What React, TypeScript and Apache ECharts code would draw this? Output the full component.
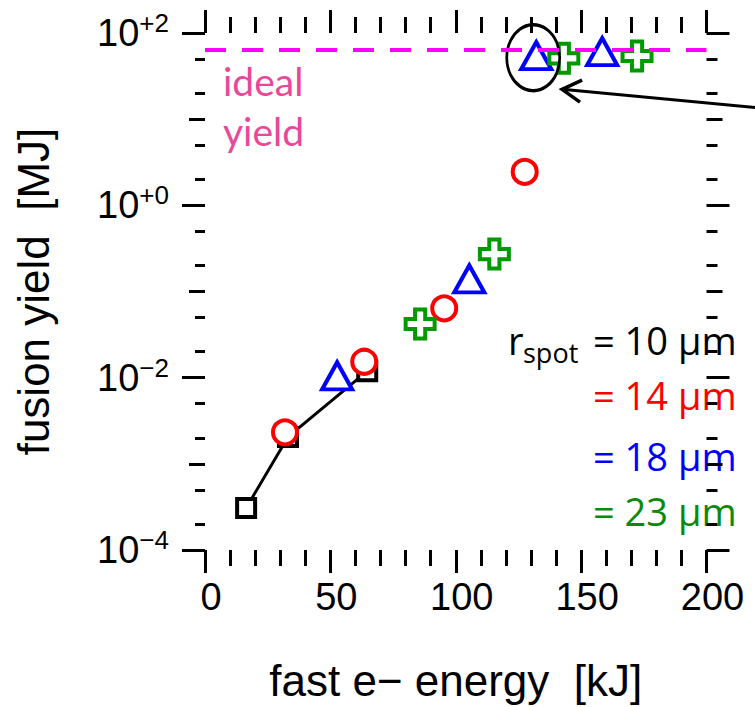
import React, { useEffect, useRef } from 'react';
import * as echarts from 'echarts';

// ---- axis ranges & ticks ----
const X_MIN = 0;
const X_MAX = 200;
const X_INTERVAL = 50;
const Y_MIN = 1e-4;
const Y_MAX = 1e2;
const yMajorTicks = [1e-4, 1e-2, 1, 100];
const yMidTicks = [1e-3, 0.1, 10];
const yMinorTicks = [2e-4, 5e-4, 2e-3, 5e-3, 0.02, 0.05, 0.2, 0.5, 2, 5, 20, 50];

// ---- data: fast e- energy [kJ] vs fusion yield [MJ] ----
const r10X = [16.4, 33.1, 64.7];
const r10Y = [3.07e-4, 2.05e-3, 0.0119];
const r14X = [31.9, 63.5, 95.4, 127.5];
const r14Y = [2.32e-3, 0.0153, 0.0638, 2.45];
const r18X = [52.7, 105.4, 132.1, 158.4];
const r18Y = [0.0105, 0.14, 54.5, 60.7];
const r23X = [85.8, 115.4, 143.1, 172.3];
const r23Y = [0.042, 0.272, 50.8, 54.1];
const IDEAL_YIELD = 63.4;

// annotation (data units)
const HIGHLIGHT_POINT = [132.1, 54.5];
const ARROW_TIP = [142.4, 22.2];
const ARROW_TAIL = [225, 13.2];

// ---- texts ----
const X_NAME = 'fast e\u2212 energy  [kJ]';
const Y_NAME = 'fusion yield  [MJ]';
const IDEAL_TEXT = ['ideal', 'yield'];
const LEGEND_TEXTS = ['= 10 \u03bcm', '= 14 \u03bcm', '= 18 \u03bcm', '= 23 \u03bcm'];
const LEGEND_COLORS = ['#000000', '#ff0000', '#0000ff', '#0a8a0a'];

const AXIS_FONT = "'Liberation Sans', Arial, sans-serif";
const TEXT_FONT = "Lato, 'Open Sans', sans-serif";
const LEGEND_FONT = "'Open Sans', Lato, sans-serif";

const zip = (xs: number[], ys: number[]) => xs.map((x, i) => [x, ys[i]]);

const PLUS_PATH =
  'path://M3.25,0H6.75V3.25H10V6.75H6.75V10H3.25V6.75H0V3.25H3.25Z';

function yLabel(v: number) {
  const e = Math.round(Math.log10(v));
  const sign = e < 0 ? '\u2212' : '+';
  return `{b|10}{s|${sign}${Math.abs(e)}}`;
}

function makeYAxis(
  position: 'left' | 'right',
  ticks: number[],
  length: number,
  withLabels: boolean
) {
  return {
    type: 'log',
    logBase: 10,
    min: Y_MIN,
    max: Y_MAX,
    position,
    gridIndex: 0,
    axisLine: { show: false },
    splitLine: { show: false },
    axisTick: {
      show: true,
      inside: false,
      length,
      customValues: ticks,
      lineStyle: { color: '#000', width: 3 },
    },
    axisLabel: withLabels
      ? {
          show: true,
          customValues: ticks,
          margin: 36,
          formatter: yLabel,
          rich: {
            b: { fontSize: 38, fontFamily: AXIS_FONT, color: '#000', lineHeight: 46, verticalAlign: 'middle' },
            s: { fontSize: 26, fontFamily: AXIS_FONT, color: '#000', lineHeight: 26, verticalAlign: 'top' },
          },
        }
      : { show: false },
    name: withLabels ? Y_NAME : '',
    nameLocation: 'middle',
    nameRotate: 90,
    nameGap: 150,
    nameMoveOverlap: false,
    nameTextStyle: { fontSize: 44, fontFamily: AXIS_FONT, color: '#000' },
  };
}

function makeXAxis(position: 'top' | 'bottom', withLabels: boolean) {
  return {
    type: 'value',
    min: X_MIN,
    max: X_MAX,
    interval: X_INTERVAL,
    position,
    gridIndex: 0,
    axisLine: { show: false },
    splitLine: { show: false },
    axisTick: { show: true, inside: false, length: 23, lineStyle: { color: '#000', width: 3 } },
    minorTick: { show: true, splitNumber: 5, length: 16, lineStyle: { color: '#000', width: 3 } },
    axisLabel: withLabels
      ? {
          show: true,
          fontSize: 38,
          lineHeight: 38,
          fontFamily: AXIS_FONT,
          color: '#000',
          margin: 28,
          padding: [0, 0, 0, 12],
        }
      : { show: false },
    name: withLabels ? X_NAME : '',
    nameLocation: 'middle',
    nameGap: 108,
    nameMoveOverlap: false,
    nameTextStyle: { fontSize: 44, fontFamily: AXIS_FONT, color: '#000' },
  };
}

function buildOption() {
  const legendGraphics: any[] = LEGEND_TEXTS.map((t, i) => ({
    type: 'text',
    x: 593,
    y: [340, 395, 456, 511][i],
    style: {
      text: t,
      fill: LEGEND_COLORS[i],
      font: `38px ${LEGEND_FONT}`,
      textAlign: 'left',
      textVerticalAlign: 'middle',
    },
  }));
  return {
    animation: false,
    backgroundColor: '#ffffff',
    grid: { left: 205, right: 48.5, top: 33, bottom: 157, containLabel: false, outerBoundsMode: 'none' },
    xAxis: [makeXAxis('bottom', true), makeXAxis('top', false)],
    yAxis: [
      makeYAxis('left', yMajorTicks, 23, true),
      makeYAxis('left', yMidTicks, 16, false),
      makeYAxis('left', yMinorTicks, 10, false),
      makeYAxis('right', yMajorTicks, 23, false),
      makeYAxis('right', yMidTicks, 16, false),
      makeYAxis('right', yMinorTicks, 11, false),
    ],
    graphic: [
      {
        type: 'text',
        x: 223,
        y: 81,
        style: { text: IDEAL_TEXT[0], fill: '#e9489a', font: `39px ${TEXT_FONT}`, textVerticalAlign: 'middle' },
      },
      {
        type: 'text',
        x: 223,
        y: 131,
        style: { text: IDEAL_TEXT[1], fill: '#e9489a', font: `39px ${TEXT_FONT}`, textVerticalAlign: 'middle' },
      },
      {
        type: 'text',
        x: 508,
        y: 340,
        style: { text: 'r', fill: '#000', font: `38px ${LEGEND_FONT}`, textVerticalAlign: 'middle' },
      },
      {
        type: 'text',
        x: 523,
        y: 352,
        style: { text: 'spot', fill: '#000', font: `27px ${LEGEND_FONT}`, textVerticalAlign: 'middle' },
      },
      ...legendGraphics,
    ],
    series: [
      {
        name: 'r10',
        type: 'line',
        xAxisIndex: 0,
        yAxisIndex: 0,
        data: zip(r10X, r10Y),
        symbol: 'rect',
        symbolSize: 18,
        showSymbol: true,
        lineStyle: { color: '#000', width: 3 },
        itemStyle: { color: '#ffffff', borderColor: '#000', borderWidth: 4 },
        z: 2,
      },
      {
        name: 'r14',
        type: 'scatter',
        xAxisIndex: 0,
        yAxisIndex: 0,
        data: zip(r14X, r14Y),
        symbol: 'circle',
        symbolSize: 24,
        itemStyle: { color: '#ffffff', borderColor: '#ff0000', borderWidth: 4, opacity: 1 },
        z: 3,
      },
      {
        name: 'r18',
        type: 'scatter',
        xAxisIndex: 0,
        yAxisIndex: 0,
        data: zip(r18X, r18Y),
        symbol: 'triangle',
        symbolSize: [30, 27],
        itemStyle: { color: '#ffffff', borderColor: '#0000ff', borderWidth: 4, opacity: 1 },
        z: 4,
      },
      {
        name: 'r23',
        type: 'scatter',
        xAxisIndex: 0,
        yAxisIndex: 0,
        data: zip(r23X, r23Y),
        symbol: PLUS_PATH,
        symbolSize: 29,
        itemStyle: { color: '#ffffff', borderColor: '#009900', borderWidth: 4, opacity: 1 },
        z: 5,
      },
      {
        name: 'highlight',
        type: 'scatter',
        xAxisIndex: 0,
        yAxisIndex: 0,
        data: [HIGHLIGHT_POINT],
        symbol: 'circle',
        symbolSize: [53, 66],
        symbolOffset: [-3, 2],
        itemStyle: { color: 'rgba(0,0,0,0)', borderColor: '#000', borderWidth: 3, opacity: 1 },
        silent: true,
        z: 6,
      },
      {
        name: 'ideal',
        type: 'line',
        xAxisIndex: 0,
        yAxisIndex: 0,
        data: [
          [X_MIN, IDEAL_YIELD],
          [X_MAX, IDEAL_YIELD],
        ],
        symbol: 'none',
        lineStyle: { color: '#ff00ff', width: 4, type: [21, 16] },
        z: 7,
      },
      {
        name: 'arrow',
        type: 'custom',
        xAxisIndex: 0,
        yAxisIndex: 0,
        clip: false,
        data: [[ARROW_TIP[0], ARROW_TIP[1], ARROW_TAIL[0], ARROW_TAIL[1]]],
        renderItem: (params: any, api: any) => {
          const tip = api.coord([api.value(0), api.value(1)]);
          const tail = api.coord([api.value(2), api.value(3)]);
          const ang = Math.atan2(tail[1] - tip[1], tail[0] - tip[0]);
          const wing = 22;
          const spread = (30 * Math.PI) / 180;
          const w1 = [tip[0] + wing * Math.cos(ang - spread), tip[1] + wing * Math.sin(ang - spread)];
          const w2 = [tip[0] + wing * Math.cos(ang + spread), tip[1] + wing * Math.sin(ang + spread)];
          return {
            type: 'group',
            children: [
              {
                type: 'line',
                shape: { x1: tip[0], y1: tip[1], x2: tail[0], y2: tail[1] },
                style: { stroke: '#000', lineWidth: 3 },
              },
              {
                type: 'polyline',
                shape: { points: [w1, tip, w2] },
                style: { stroke: '#000', lineWidth: 3.5, fill: null, lineJoin: 'miter' },
              },
            ],
          };
        },
        z: 8,
      },
    ],
  };
}

export default function App() {
  const ref = useRef<HTMLDivElement>(null);
  useEffect(() => {
    document.body.style.margin = '0';
    const chart = echarts.init(ref.current!, null, { renderer: 'svg' });
    chart.setOption(buildOption() as any);
    return () => chart.dispose();
  }, []);
  return <div ref={ref} style={{ width: 755, height: 707, background: '#fff' }} />;
}
